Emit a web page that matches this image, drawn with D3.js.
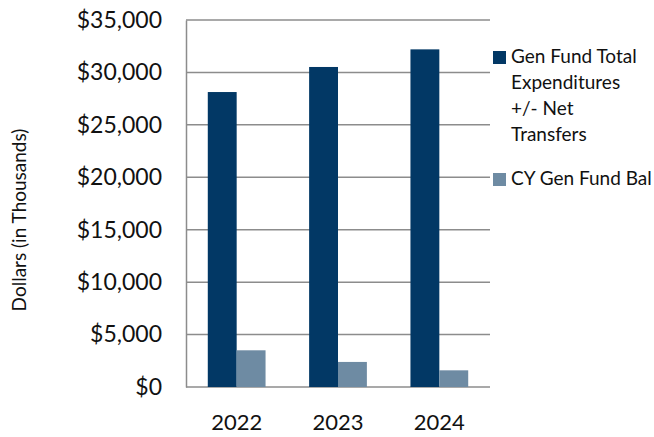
<!DOCTYPE html>
<html>
<head>
<meta charset="utf-8">
<script src="https://cdn.jsdelivr.net/npm/d3@7"></script>
<style>
  body { margin: 0; background: #fff; }
  svg, svg text { font-family: "Lato", "Open Sans", sans-serif; }
</style>
</head>
<body>
<div id="chart"></div>
<script>
// chart data
var years = ["2022", "2023", "2024"];
var seriesNames = ["Gen Fund Total Expenditures +/- Net Transfers", "CY Gen Fund Bal"];
var expenditures = [28130, 30520, 32200];
var fundBalance = [3500, 2390, 1590];
var yTicks = [0, 5000, 10000, 15000, 20000, 25000, 30000, 35000];
var legendLines = [["Gen Fund Total", "Expenditures", "+/- Net", "Transfers"], ["CY Gen Fund Bal"]];
var colors = ["#023865", "#6e8ba3"];

var width = 654, height = 437;
var margin = {top: 20, right: 164, bottom: 50, left: 186};
var plotW = width - margin.left - margin.right,
    plotH = height - margin.top - margin.bottom;

var svg = d3.select("#chart").append("svg")
    .attr("width", width)
    .attr("height", height);

var g = svg.append("g")
    .attr("transform", "translate(" + margin.left + "," + margin.top + ")");

var x = d3.scaleBand().domain(years).range([0, plotW]).paddingInner(0.43).paddingOuter(0.215);
var xSub = d3.scaleBand().domain([0, 1]).range([0, x.bandwidth()]);
var y = d3.scaleLinear().domain([0, 35000]).range([plotH, 0]);

// gridlines
g.append("g")
  .selectAll("line")
  .data(yTicks)
  .enter().append("line")
    .attr("x1", 0).attr("x2", plotW)
    .attr("y1", function(d) { return y(d); })
    .attr("y2", function(d) { return y(d); })
    .attr("stroke", "#8c8c8c")
    .attr("stroke-width", 1.5);

// y axis
var yAxis = g.append("g")
    .call(d3.axisLeft(y).tickValues(yTicks).tickSize(0).tickPadding(24)
      .tickFormat(function(d) { return "$" + d3.format(",")(d); }));
yAxis.attr("font-family", null);
yAxis.select(".domain").attr("stroke", "#8c8c8c").attr("stroke-width", 1.5);
yAxis.selectAll("text").attr("font-size", 23).attr("fill", "#111");

// bars
var data = years.map(function(yr, i) { return {year: yr, vals: [expenditures[i], fundBalance[i]]}; });
var groups = g.selectAll(".grp")
  .data(data)
  .enter().append("g")
    .attr("class", "grp")
    .attr("transform", function(d) { return "translate(" + x(d.year) + ",0)"; });

groups.selectAll("rect")
  .data(function(d) { return d.vals; })
  .enter().append("rect")
    .attr("x", function(d, i) { return xSub(i); })
    .attr("width", xSub.bandwidth())
    .attr("y", function(d) { return y(d); })
    .attr("height", function(d) { return plotH - y(d); })
    .attr("fill", function(d, i) { return colors[i]; });

// x labels
var xAxis = g.append("g")
    .attr("transform", "translate(0," + plotH + ")")
    .call(d3.axisBottom(x).tickSize(0).tickPadding(27));
xAxis.attr("font-family", null);
xAxis.select(".domain").remove();
xAxis.selectAll("text").attr("font-size", 22).attr("fill", "#111");

// y axis title
svg.append("text")
    .attr("transform", "translate(26,220) rotate(-90)")
    .attr("text-anchor", "middle")
    .attr("font-size", 19)
    .attr("fill", "#111")
    .text("Dollars (in Thousands)");

// legend
var legendY = [51, 173];
legendLines.forEach(function(lines, i) {
  var lg = svg.append("g").attr("transform", "translate(493," + legendY[i] + ")");
  lg.append("rect").attr("width", 13).attr("height", 13).attr("fill", colors[i]);
  lg.selectAll("text")
    .data(lines)
    .enter().append("text")
      .attr("x", 18)
      .attr("y", function(d, j) { return 12 + j * 26; })
      .attr("font-size", 19)
      .attr("fill", "#111")
      .text(function(d) { return d; });
});
</script>
</body>
</html>
